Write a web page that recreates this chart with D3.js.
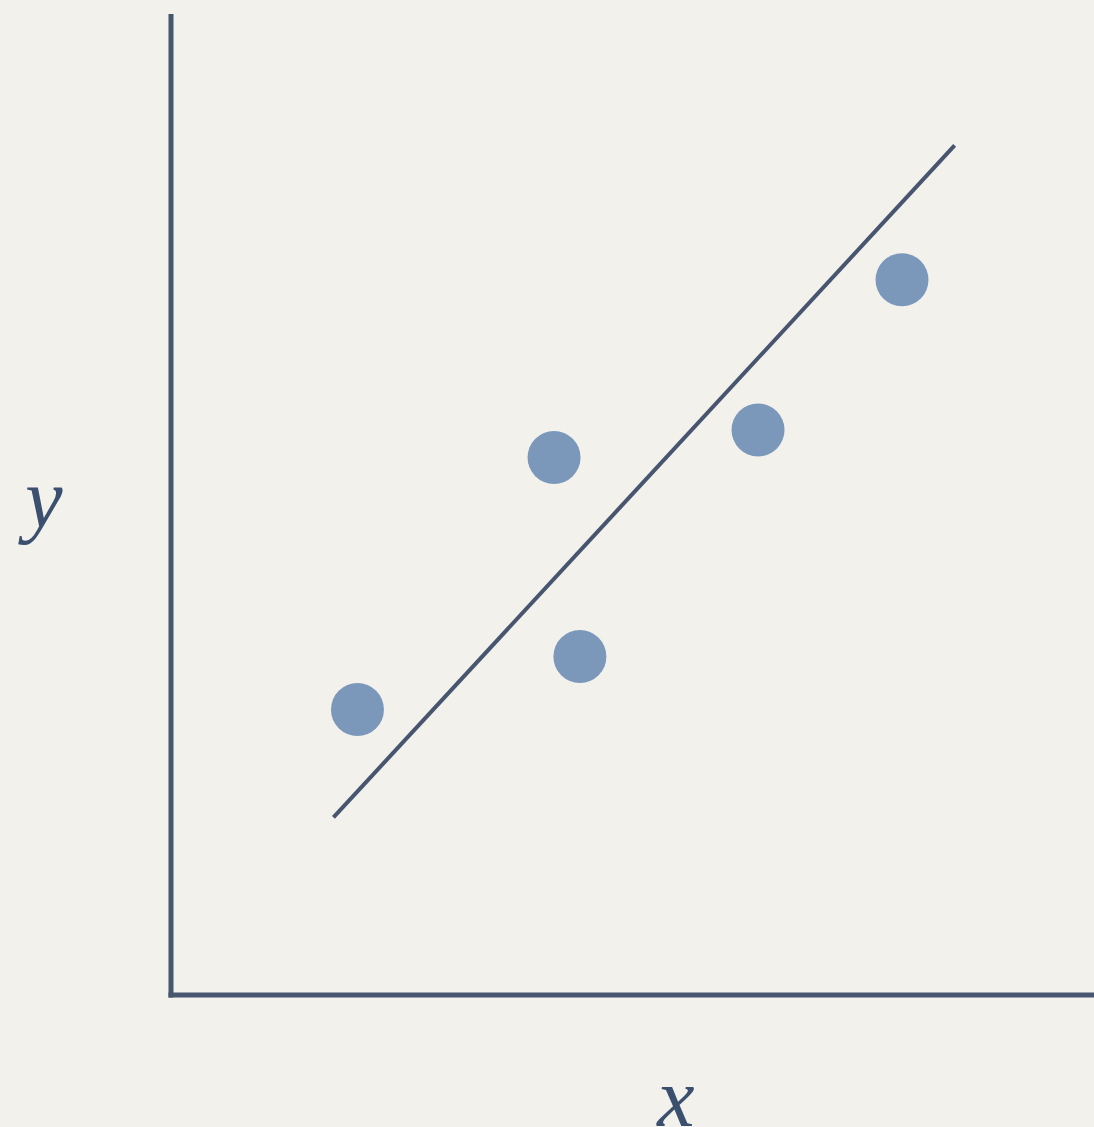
<!DOCTYPE html>
<html><head><meta charset="utf-8">
<script src="https://cdn.jsdelivr.net/npm/d3@7"></script>
<style>html,body{margin:0;padding:0;background:#f2f0eb;overflow:hidden}</style>
</head><body>
<script>
const pointX = [2.02, 4.15, 4.43, 6.36, 7.92];
const pointY = [2.91, 5.48, 3.45, 5.76, 7.29];
const lineX = [1.76, 8.49];
const lineY = [1.81, 8.66];
const axisLabels = ["x", "y"];

const W = 1094, H = 1127;
const svg = d3.select("body").append("svg").attr("width", W).attr("height", H);
svg.append("rect").attr("width", W).attr("height", H).attr("fill", "#f3f1ec");

const x = d3.scaleLinear().domain([0, 10]).range([171, 1094]);
const y = d3.scaleLinear().domain([0, 10]).range([995, 14]);
const axisColor = "#47556f";

// axes
svg.append("line").attr("x1", x(0)).attr("x2", x(0)).attr("y1", y(10)).attr("y2", y(0) + 2.5)
  .attr("stroke", axisColor).attr("stroke-width", 5);
svg.append("line").attr("x1", x(0) - 2.5).attr("x2", x(10)).attr("y1", y(0)).attr("y2", y(0))
  .attr("stroke", axisColor).attr("stroke-width", 5);

// fit line
svg.append("path").datum(lineX.map((d, i) => [d, lineY[i]]))
  .attr("d", d3.line().x(d => x(d[0])).y(d => y(d[1])))
  .attr("stroke", axisColor).attr("stroke-width", 4).attr("fill", "none");

// points
svg.selectAll("circle.pt").data(pointX.map((d, i) => [d, pointY[i]])).join("circle")
  .attr("class", "pt").attr("cx", d => x(d[0])).attr("cy", d => y(d[1])).attr("r", 26.5)
  .attr("fill", "#7b98bb");

// labels
svg.append("text").attr("x", 676).attr("y", 1126).attr("text-anchor", "middle")
  .attr("font-family", "Liberation Serif, serif").attr("font-style", "italic")
  .attr("font-size", 84).attr("fill", "#3b4f6e").text(axisLabels[0]);
svg.append("text").attr("x", 44).attr("y", 527).attr("text-anchor", "middle")
  .attr("font-family", "Liberation Serif, serif").attr("font-style", "italic")
  .attr("font-size", 84).attr("fill", "#3b4f6e").text(axisLabels[1]);
</script>
</body></html>
